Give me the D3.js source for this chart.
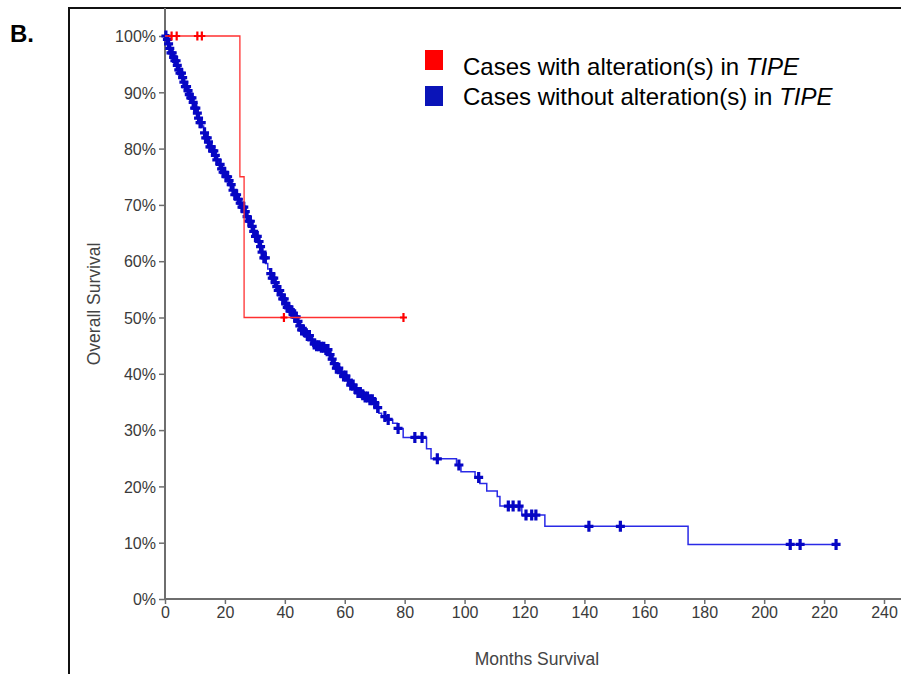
<!DOCTYPE html>
<html>
<head>
<meta charset="utf-8">
<script src="https://cdn.jsdelivr.net/npm/d3@7"></script>
<style>
  body { margin: 0; background: #fff; }
  svg { display: block; font-family: "Liberation Sans", Arial, sans-serif; }
</style>
</head>
<body>
<svg class="km-chart"></svg>
<script>
// Kaplan-Meier curves, panel B

var xTicks = [0, 20, 40, 60, 80, 100, 120, 140, 160, 180, 200, 220, 240];
var yTicks = [0, 10, 20, 30, 40, 50, 60, 70, 80, 90, 100];

// altered group (red)
var redTimes = [0, 25.0, 26.4];
var redSurv = [100, 75, 50];
var redEnd = 79.6;
var redCensor = [2.2, 3.9, 10.8, 12.3, 39.7, 79.6];

// unaltered group (blue), step points
var blueTimes = [0, 0.5, 1.0, 1.5, 2.0, 2.6, 3.2, 3.8, 4.4, 5.0, 5.6, 6.2, 6.8, 7.4, 8.0, 8.6, 9.2, 9.8,
  10.4, 11.0, 11.6, 12.2, 12.9, 13.6, 14.3, 15.0, 15.7, 16.4, 17.1, 17.9, 18.6, 19.4, 20.2, 21.0,
  21.8, 22.5, 23.2, 24.0, 24.8, 25.6, 26.4, 27.2, 28.0, 28.8, 29.5, 30.2, 30.9, 31.6, 32.3, 33.0,
  33.6, 34.3, 35.0, 35.7, 36.4, 37.1, 37.8, 38.5, 39.2, 40.0, 40.8, 41.6, 42.4, 43.2, 44.0, 44.8,
  45.6, 46.5, 47.4, 48.3, 49.2, 50.4, 52.0, 53.5, 54.6, 55.4, 56.2, 57.2, 58.4, 59.6, 60.8, 62.0,
  63.2, 64.4, 65.6, 66.8, 68.2, 69.6, 70.6, 71.4, 72.3, 74.0, 76.0, 77.6, 79.5, 87.3, 88.8, 97.3,
  98.8, 103.5, 105.1, 107.4, 110.9, 111.8, 119.1, 126.8, 174.6];
var blueSurv = [100, 99.4, 98.6, 97.8, 97.0, 96.2, 95.6, 94.8, 94.0, 93.4, 92.6, 91.8, 91.0, 90.3, 89.6, 89.0, 88.2, 87.2,
  86.3, 85.4, 84.6, 84.0, 82.8, 81.9, 81.2, 80.3, 79.6, 78.8, 78.0, 77.2, 76.4, 75.8, 75.0, 74.3,
  73.6, 72.6, 71.8, 71.0, 70.3, 69.6, 68.8, 67.9, 67.1, 66.2, 65.3, 64.4, 63.5, 62.6, 61.6, 60.6,
  59.6, 58.6, 57.8, 57.0, 56.2, 55.5, 54.8, 54.0, 53.3, 52.4, 51.8, 51.2, 50.7, 50.1, 49.3, 48.5,
  47.8, 47.4, 46.8, 46.0, 45.3, 45.0, 44.7, 44.3, 43.4, 42.6, 41.8, 41.0, 40.2, 39.6, 38.9, 38.0,
  37.3, 36.7, 36.3, 35.9, 35.4, 34.9, 34.0, 33.0, 32.4, 31.9, 31.2, 30.3, 28.7, 26.7, 24.9, 23.8,
  22.6, 21.6, 20.5, 19.2, 18.2, 16.5, 14.9, 12.9, 9.7];
var blueEnd = 224;
var blueCensor = [0.3, 0.8, 1.2, 1.6, 2.0, 2.4, 2.9, 3.3, 3.7, 4.1, 4.6, 5.0, 5.5, 5.9, 6.3, 6.8, 7.2, 7.7,
  8.1, 8.6, 9.0, 9.4, 9.9, 10.3, 10.8, 11.2, 11.7, 12.1, 13.2, 13.6, 14.1, 14.5, 15.0, 15.4, 15.9,
  16.3, 16.8, 17.3, 18.4, 18.9, 19.4, 19.9, 20.4, 20.9, 21.4, 22.1, 22.7, 23.3, 23.9, 24.5, 25.1,
  25.7, 26.3, 26.8, 27.4, 28.0, 28.5, 29.1, 29.6, 30.2, 30.8, 31.4, 31.9, 32.4, 33.0, 33.5, 35.3,
  35.8, 36.3, 36.8, 37.3, 37.8, 38.3, 38.8, 39.3, 39.8, 40.3, 40.8, 41.3, 41.8, 42.3, 42.8, 43.3,
  43.8, 44.4, 45.0, 45.6, 46.2, 46.8, 47.5, 48.2, 49.0, 49.8, 50.6, 51.4, 52.2, 53.0, 53.7, 54.4,
  55.1, 55.8, 56.5, 57.2, 58.0, 58.8, 59.6, 60.4, 61.2, 62.0, 62.8, 63.6, 64.4, 65.2, 66.0, 66.8,
  67.6, 68.4, 69.2, 70.0, 71.0, 73.4, 74.5, 77.8, 83.4, 85.8, 90.9, 98.1, 104.7, 114.6, 116.2,
  118.2, 120.5, 122.4, 123.8, 141.5, 152.0, 208.7, 212.0, 224.0];

var W = 901, H = 674;
var svg = d3.select(".km-chart").attr("width", W).attr("height", H);

var x = d3.scaleLinear().domain([0, 240]).range([165, 884]);
var y = d3.scaleLinear().domain([0, 100]).range([599, 36]);

// panel frame + label
svg.append("path")
    .attr("d", "M69," + H + "V8H" + W)
    .attr("fill", "none")
    .attr("stroke", "#111")
    .attr("stroke-width", 2);

svg.append("text")
    .attr("x", 10).attr("y", 42)
    .style("font-size", "24px")
    .style("font-weight", "bold")
    .attr("fill", "#000")
    .text("B.");

// axes
var axisColor = "#6e6e6e";
var yAxis = d3.axisLeft(y).tickValues(yTicks).tickSize(6).tickFormat(function(d) { return d + "%"; });
var gy = svg.append("g").attr("transform", "translate(165,0)").call(yAxis);
gy.select(".domain").remove();
gy.append("line").attr("x1", 0).attr("x2", 0).attr("y1", 8).attr("y2", 600)
    .attr("stroke", axisColor).attr("stroke-width", 2);

var xAxis = d3.axisBottom(x).tickValues(xTicks).tickSize(5);
var gx = svg.append("g").attr("transform", "translate(0,599)").call(xAxis);
gx.select(".domain").remove();
gx.append("line").attr("x1", 164).attr("x2", W).attr("y1", 0).attr("y2", 0)
    .attr("stroke", axisColor).attr("stroke-width", 2);

svg.selectAll(".tick line").attr("stroke", axisColor).attr("stroke-width", 1.5);
svg.selectAll(".tick text")
    .attr("fill", "#3a3a3a")
    .style("font-size", "16px")
    .style("font-family", "'Liberation Sans', Arial, sans-serif");
gy.selectAll(".tick text").attr("x", -9).attr("dy", "0.36em");
gx.selectAll(".tick text").attr("y", 8);

svg.append("text")
    .attr("transform", "translate(100,304) rotate(-90)")
    .attr("text-anchor", "middle")
    .attr("fill", "#444")
    .style("font-size", "17.5px")
    .text("Overall Survival");

svg.append("text")
    .attr("x", 537).attr("y", 665)
    .attr("text-anchor", "middle")
    .attr("fill", "#444")
    .style("font-size", "17.5px")
    .text("Months Survival");

// step curves
function stepPoints(times, surv, end) {
  var pts = times.map(function(t, i) { return [t, surv[i]]; });
  pts.push([end, surv[surv.length - 1]]);
  return pts;
}
function survAt(times, surv, t) {
  var i = d3.bisectRight(times, t) - 1;
  return surv[Math.max(0, i)];
}

var line = d3.line()
    .x(function(d) { return x(d[0]); })
    .y(function(d) { return y(d[1]); })
    .curve(d3.curveStepAfter);

var plus = "M-4.5,0H4.5M0,-5.5V5.5";

svg.append("path")
    .datum(stepPoints(blueTimes, blueSurv, blueEnd))
    .attr("d", line)
    .attr("fill", "none")
    .attr("stroke", "#2a2ae6")
    .attr("stroke-width", 1.5);

svg.append("g").selectAll("path")
    .data(blueCensor)
    .enter().append("path")
    .attr("d", plus)
    .attr("transform", function(d) { return "translate(" + x(d) + "," + y(survAt(blueTimes, blueSurv, d)) + ")"; })
    .attr("stroke", "#0606c4")
    .attr("stroke-width", 3.2)
    .attr("fill", "none");

svg.append("path")
    .datum(stepPoints(redTimes, redSurv, redEnd))
    .attr("d", line)
    .attr("fill", "none")
    .attr("stroke", "#ff3030")
    .attr("stroke-width", 1.3);

svg.append("g").selectAll("path")
    .data(redCensor)
    .enter().append("path")
    .attr("d", "M-3.5,0H3.5M0,-4.5V4.5")
    .attr("transform", function(d) { return "translate(" + x(d) + "," + y(survAt(redTimes, redSurv, d)) + ")"; })
    .attr("stroke", "#ff0000")
    .attr("stroke-width", 2.2)
    .attr("fill", "none");

// legend
var legendItems = [
  {color: "#ff0000", label: "Cases with alteration(s) in ", box: 50, base: 75},
  {color: "#0a14b8", label: "Cases without alteration(s) in ", box: 86, base: 105}
];
var lg = svg.append("g").selectAll("g")
    .data(legendItems)
    .enter().append("g");
lg.append("rect")
    .attr("x", 425)
    .attr("y", function(d) { return d.box; })
    .attr("width", 18).attr("height", 20)
    .attr("fill", function(d) { return d.color; });
var lt = lg.append("text")
    .attr("x", 463)
    .attr("y", function(d) { return d.base; })
    .attr("fill", "#000")
    .style("font-size", "24px");
lt.append("tspan").text(function(d) { return d.label; });
lt.append("tspan").style("font-style", "italic").text("TIPE");
</script>
</body>
</html>
